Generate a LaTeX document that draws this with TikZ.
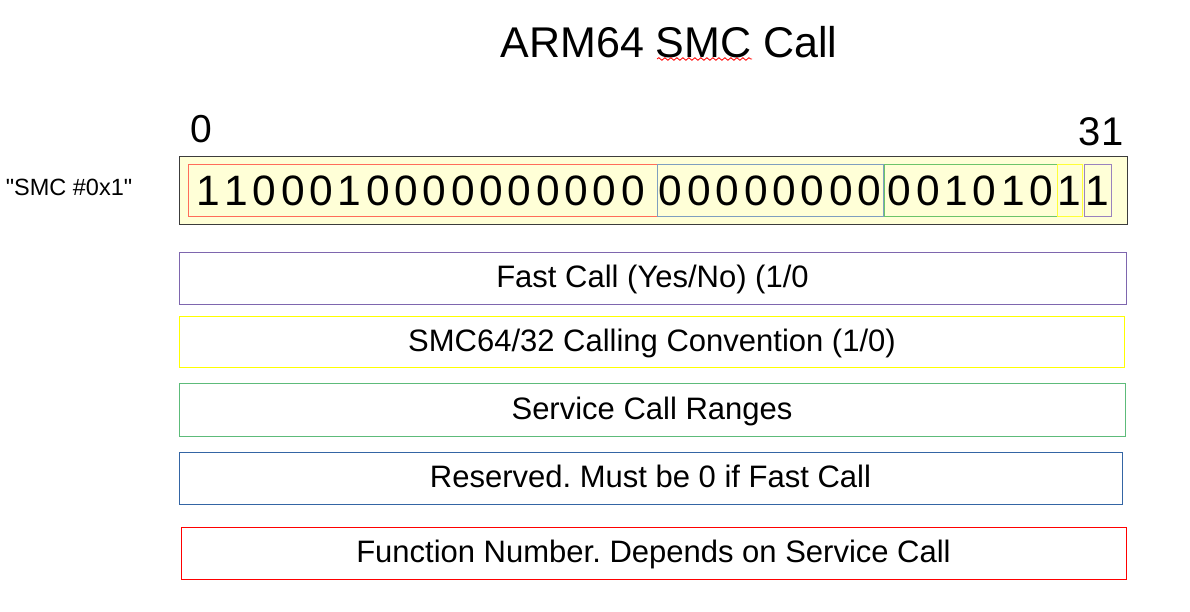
\documentclass[tikz,border=0pt]{standalone}
\usepackage{fontspec}
\setmainfont{Liberation Sans}[Ligatures=TeXOff]
\usetikzlibrary{decorations.pathmorphing}
\definecolor{boxfill}{HTML}{FFFFD7}
\definecolor{boxline}{HTML}{3C3C3C}
\definecolor{fred}{HTML}{FF6D5A}
\definecolor{fblue}{HTML}{7F9FBF}
\definecolor{fgreen}{HTML}{6CC46A}
\definecolor{fyellow}{HTML}{FFFF38}
\definecolor{fpurple}{HTML}{9A82BE}
\definecolor{lpurple}{HTML}{7E66AE}
\definecolor{lyellow}{HTML}{FFFF00}
\definecolor{lgreen}{HTML}{5DBB7A}
\definecolor{lblue}{HTML}{3465A4}
\definecolor{lred}{HTML}{FF0000}
\frenchspacing
\begin{document}
\begin{tikzpicture}[x=1pt,y=-1pt,
  field/.style={draw=#1, line width=1pt, inner sep=0pt, minimum height=52pt},
  bit/.style={inner sep=0pt, font=\fontsize{42.5}{44}\selectfont},
  legendbox/.style={draw=#1, line width=1pt, inner sep=0pt, minimum height=52pt, text height=22pt, text depth=3pt, font=\fontsize{31}{36}\selectfont}]
\useasboundingbox (0,0) rectangle (1190,612);
% title
\node[font=\fontsize{43}{48}\selectfont] (title) at (669,42) {ARM64 SMC Call};
\draw[red, line width=0.8pt, decorate, decoration={snake, amplitude=1.3pt, segment length=6pt}] (657,59) -- (752,59);
% bit index labels
\node[font=\fontsize{39}{44}\selectfont] (lo) at (201,129) {0};
\node[font=\fontsize{40}{44}\selectfont] (hi) at (1101,132) {31};
\node[font=\fontsize{23.5}{28}\selectfont] (instr) at (69,187) {"SMC \#0x1"};
% register box
\node[draw=boxline, fill=boxfill, line width=1pt, inner sep=0pt, minimum width=948pt, minimum height=68pt] (reg) at (653,191) {};
% fields
\node[field=fred, minimum width=469pt] (fnum) at (422.5,191) {};
\node[field=fblue, minimum width=226pt] (resv) at (770,191) {};
\node[field=fgreen, minimum width=173pt] (svc) at (970.5,191) {};
\node[field=fyellow, minimum width=25pt] (conv) at (1069.5,191) {};
\node[field=fpurple, minimum width=27pt] (fast) at (1097.5,191) {};
\foreach \d [count=\i] in {1,1,0,0,0,1,0,0,0,0,0,0,0,0,0,0}
  \node[bit, xshift={(\i-8.5)*28.35pt-2pt}] (fnum\i) at (fnum.center) {\d};
\foreach \d [count=\i] in {0,0,0,0,0,0,0,0}
  \node[bit, xshift={(\i-4.5)*28.35pt}] (resv\i) at (resv.center) {\d};
\foreach \d [count=\i] in {0,0,1,0,1,0}
  \node[bit, xshift={(\i-3.5)*28.35pt}] (svc\i) at (svc.center) {\d};
\node[bit] (convb) at (conv.center) {1};
\node[bit] (fastb) at (fast.center) {1};
% legend
\node[legendbox=lpurple, minimum width=947pt, minimum height=52pt] (lfast) at (652.5,278) {Fast Call (Yes/No) (1/0};
\node[legendbox=lyellow, minimum width=945pt, minimum height=51pt] (lconv) at (652,341.5) {SMC64/32 Calling Convention (1/0)};
\node[legendbox=lgreen, minimum width=946pt, minimum height=53pt] (lsvc) at (652,409.5) {Service Call Ranges};
\node[legendbox=lblue, minimum width=943pt] (lresv) at (650.5,478) {Reserved. Must be 0 if Fast Call};
\node[legendbox=lred, minimum width=945pt] (lfnum) at (653.5,553.3) {Function Number. Depends on Service Call};
\end{tikzpicture}
\end{document}
